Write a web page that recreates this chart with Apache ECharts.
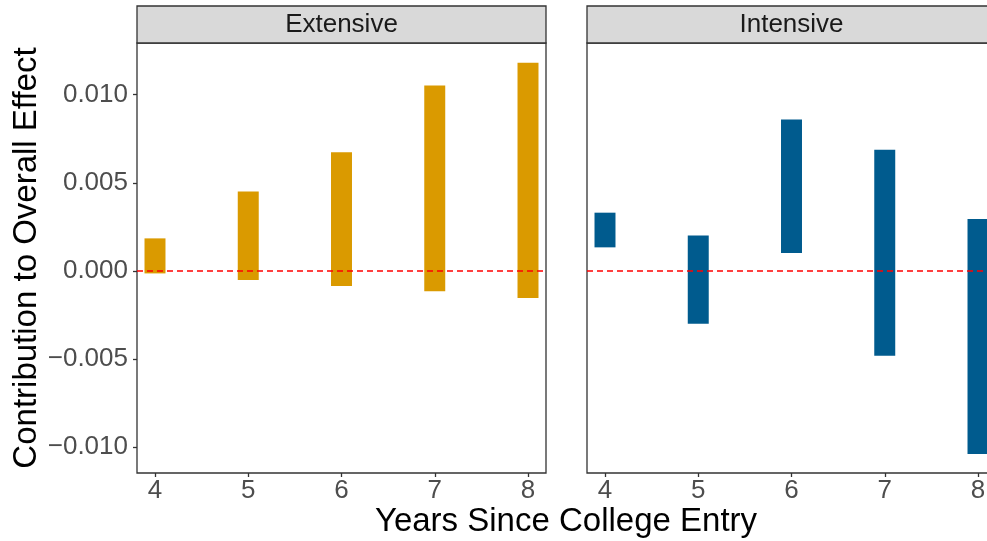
<!DOCTYPE html>
<html>
<head>
<meta charset="utf-8">
<script src="https://cdn.jsdelivr.net/npm/echarts@6/dist/echarts.min.js"></script>
<style>
  html, body { margin: 0; padding: 0; background: #fff; }
  #chart { width: 987px; height: 541px; }
</style>
</head>
<body>
<div id="chart"></div>
<script>
// Years since college entry (x positions of the bars)
const years = [4, 5, 6, 7, 8];

// Extensive-margin contribution: interval low / high per year
const extLow  = [-0.00015, -0.00053, -0.00087, -0.00117, -0.00155];
const extHigh = [ 0.00184,  0.00451,  0.00674,  0.01053,  0.01182];

// Intensive-margin contribution: interval low / high per year
const intLow  = [ 0.00133, -0.00301,  0.00101, -0.00483, -0.01041];
const intHigh = [ 0.00330,  0.00201,  0.00860,  0.00688,  0.00294];

// Axis ticks
const yTicks = [-0.010, -0.005, 0.000, 0.005, 0.010];
const xTicks = [4, 5, 6, 7, 8];

const panels = ['Extensive', 'Intensive'];
const colors = ['#DA9A00', '#005B8E'];

const FONT = 'Liberation Sans, Arial, sans-serif';
const BAR_W = 0.225;
const Y_MIN = -0.01149, Y_MAX = 0.01294;
const X_MIN = 3.807, X_MAX = 8.193;

const PANEL_LEFT = [137, 587];
const PANEL_W = 409, PANEL_TOP = 43, PANEL_H = 430, STRIP_TOP = 6;

function fmtY(v) {
  const s = Math.abs(v).toFixed(3);
  return v < -1e-12 ? '\u2212' + s : s;
}

function rangeData(lo, hi) {
  return years.map((x, i) => [x, lo[i], hi[i]]);
}

function renderRange(params, api) {
  const x = api.value(0), lo = api.value(1), hi = api.value(2);
  const p1 = api.coord([x - BAR_W / 2, hi]);
  const p2 = api.coord([x + BAR_W / 2, lo]);
  return {
    type: 'rect',
    shape: { x: p1[0], y: p1[1], width: p2[0] - p1[0], height: p2[1] - p1[1] },
    style: { fill: api.visual('color') }
  };
}

// The second panel runs past the right edge of the canvas
const grids = PANEL_LEFT.map(l => ({
  left: l, top: PANEL_TOP, width: PANEL_W, height: PANEL_H,
  outerBoundsMode: 'none',
  containLabel: false,
  show: true, borderColor: '#333333', borderWidth: 1.3, backgroundColor: '#ffffff'
}));

const xAxes = grids.map((g, i) => ({
  type: 'value', gridIndex: i, min: X_MIN, max: X_MAX,
  splitLine: { show: false },
  axisLine: { show: false, onZero: false },
  axisTick: { show: true, customValues: xTicks, length: 4, lineStyle: { color: '#333333', width: 1.3 } },
  axisLabel: { show: true, customValues: xTicks, fontSize: 26, color: '#4D4D4D', fontFamily: FONT, margin: 5 }
}));

const yAxes = grids.map((g, i) => ({
  type: 'value', gridIndex: i, min: Y_MIN, max: Y_MAX,
  splitLine: { show: false },
  axisLine: { show: false, onZero: false },
  axisTick: { show: i === 0, customValues: yTicks, length: 4, lineStyle: { color: '#333333', width: 1.3 } },
  axisLabel: { show: i === 0, customValues: yTicks, formatter: fmtY, fontSize: 26, color: '#4D4D4D', fontFamily: FONT, margin: 9 }
}));

const series = [
  [extLow, extHigh],
  [intLow, intHigh]
].map((d, i) => ({
  type: 'custom',
  name: panels[i],
  xAxisIndex: i, yAxisIndex: i,
  itemStyle: { color: colors[i] },
  data: rangeData(d[0], d[1]),
  renderItem: renderRange,
  silent: true,
  z: 2,
  markLine: {
    silent: true, symbol: 'none', z: 3,
    label: { show: false },
    lineStyle: { color: '#FF0000', type: [6, 4], width: 1.5 },
    data: [{ yAxis: 0 }]
  }
}));

// Facet strips above each panel
const strips = PANEL_LEFT.map((l, i) => ({
  type: 'group',
  children: [
    {
      type: 'rect',
      shape: { x: l, y: STRIP_TOP, width: PANEL_W, height: PANEL_TOP - STRIP_TOP },
      style: { fill: '#D9D9D9', stroke: '#333333', lineWidth: 1.3 }
    },
    {
      type: 'text',
      x: l + PANEL_W / 2, y: (STRIP_TOP + PANEL_TOP) / 2,
      style: { text: panels[i], fontSize: 26, fontFamily: FONT, fill: '#1A1A1A', align: 'center', verticalAlign: 'middle' }
    }
  ]
}));

const titles = [
  {
    type: 'text', x: 566, y: 522,
    style: { text: 'Years Since College Entry', fontSize: 33, fontFamily: FONT, fill: '#000000', align: 'center', verticalAlign: 'middle' }
  },
  {
    type: 'text', x: 27, y: PANEL_TOP + PANEL_H / 2, rotation: Math.PI / 2,
    style: { text: 'Contribution to Overall Effect', fontSize: 33, fontFamily: FONT, fill: '#000000', align: 'center', verticalAlign: 'middle' }
  }
];

const chart = echarts.init(document.getElementById('chart'), null, { renderer: 'canvas' });
chart.setOption({
  animation: false,
  backgroundColor: '#ffffff',
  grid: grids,
  xAxis: xAxes,
  yAxis: yAxes,
  series: series,
  graphic: strips.concat(titles)
});
</script>
</body>
</html>
